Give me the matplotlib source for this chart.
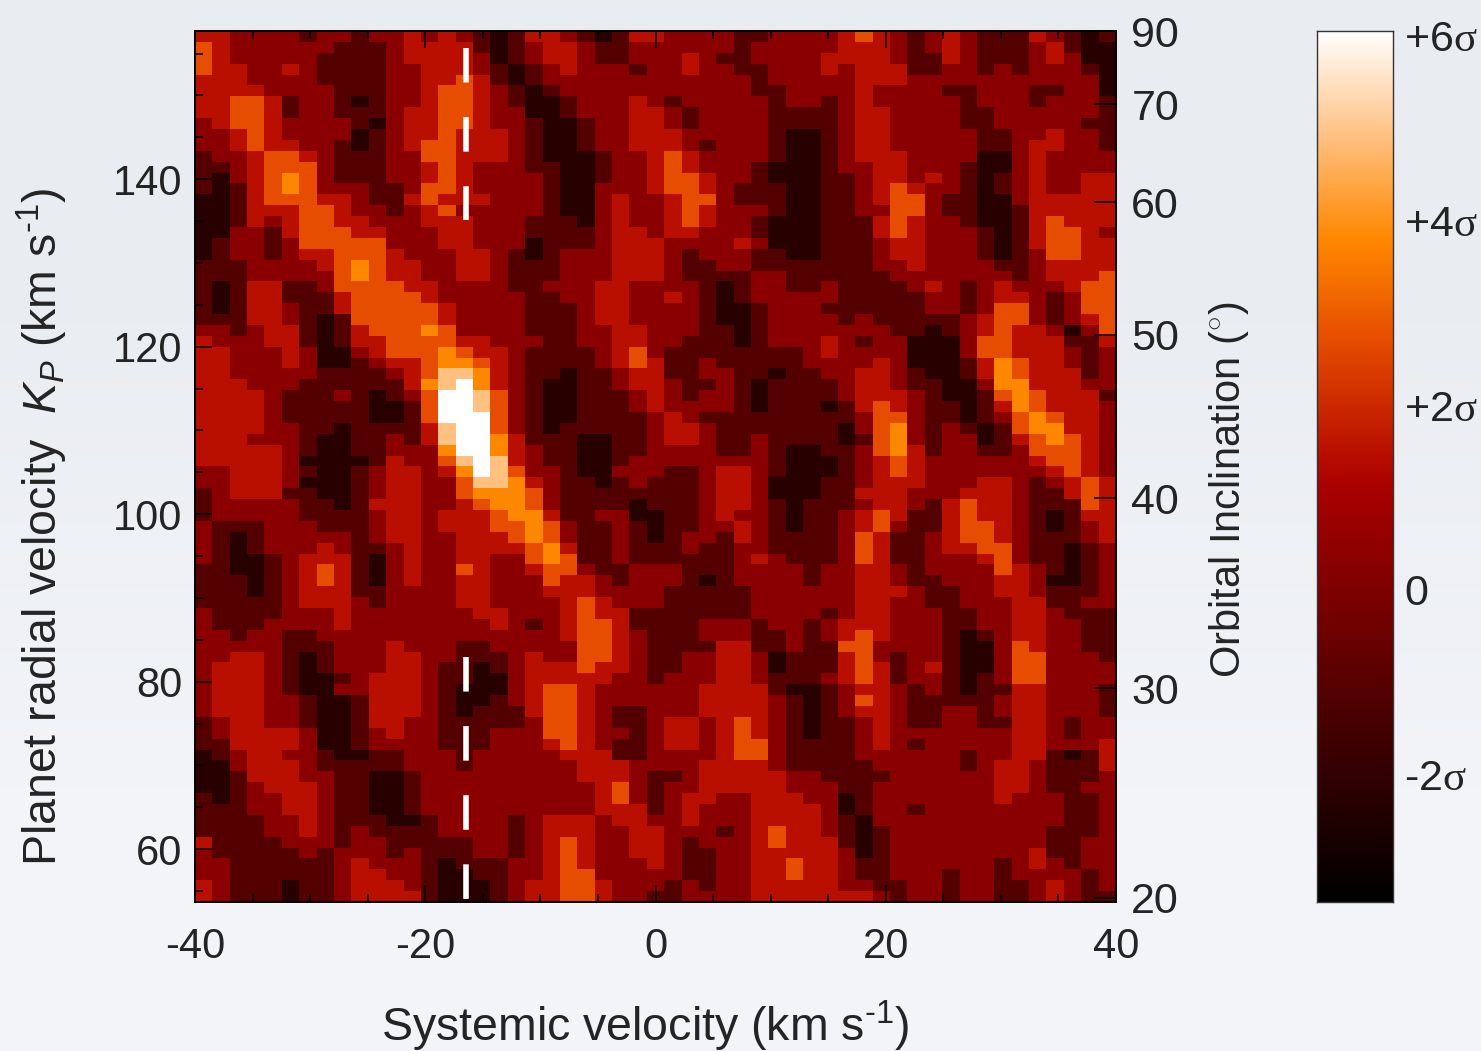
import numpy as np
import matplotlib
matplotlib.use("Agg")
import matplotlib.pyplot as plt
from matplotlib.colors import LinearSegmentedColormap, Normalize

plt.rcParams['font.family'] = ['Liberation Sans', 'DejaVu Sans']
plt.rcParams['mathtext.fontset'] = 'custom'
plt.rcParams['mathtext.rm'] = 'Liberation Sans'
plt.rcParams['mathtext.it'] = 'Liberation Sans:italic'
plt.rcParams['mathtext.bf'] = 'Liberation Serif'
plt.rcParams['axes.unicode_minus'] = False

# Map cells, coded by colour step (see LEVELS), top row first
ROWS = [
"33 2222 1 22 1 22 3 2 3 2 1 0 1 33 2 1 0 1 33 2222 11 2222 3 4 3 2 1 2 3 2 111 3 2 1 0 1",
"4 3 222222 111 2 333 3 1 0 1 2 33 2 11 22 2222 1 22222 333 2 1 2 3 2 111 2 3 1 00",
"4 3 22222 1111 2 3333 2 0 1 2 33 2 11 22 2 3 2 11 2222 3 333 2 11 3 2 111 2 3 2 00",
"4 33 22 3 2 1111 22 333 2 1 0 1 2 3 222 1 2 2 3 22 11 222 3 2 333 11 22 1 2 1 222 1 0",
"333 2222 1111 22 33 4 3 1 0 1 2222222 22222 1 22222 333 22222222222 0",
"3333 2222 111 22 3 44 3 2 1 0 1 222222 22222 11 2222 3 2222 11 222 11 22 0",
"33 44 3 1 22 1 0 1 22 3 44 3 2 1 00 1 222 3 2 1 22222 1 22 1 2 3 22222 1 222 1 222 1",
"33 44 3 1 22 111 2 33 44 3 22 00 1 222 33 2 1 2222 1111 2 33 2222 11 222222 1",
"2 3 44 3 2222 1 0 2 33 44 3 22 1 00 1 22 33 2 1 2222 1111 2 33 2222 11 22222 11",
"22 3 4 3 2222 0 1 2 33 4 333 2 1 00 1 22 33 3 2 2222 1 00 1 2 33 22222 11 22 3 22 1",
"22 3 4 33 22 1 0 1 2 3 44 333 2 1 00 1 22 33 3 2 1 222 1 00 1 2 33 22222 11 2 33 22 1",
"1 22 3 44 3 2 111 22 44 333 2 1 000 1 2 2 3 4 3 2222 1 00 1 2 333 2222 00 2 3 2222",
"11 2 3 444 2 111 22 3 4 3 222 1 1 00 1 2 2 3 4 3 222 1 000 1 2 2 33 222 1 00 2 3 2222",
"1 0 2 3 4 5 4 2 111 22 3 4 3 2222 1 00 1 22 3 44 3 22 1 000 11 2 33 2 3 2 1 0 1 2 3 22 33",
"1 0 1 3 4 5 4 222 11 2 44 3 2222 1 00 222 3 44 3 2 111 00 11 2 3 4 3 22 1 0 1 2 3 22 33",
"00 1 3 444 33 2 11 3 4 333 222 1 00 2 3 22 3 44 2 111 00 11 2 3 44 2 11 00 2 33333",
"00 1 333 44 3 22 1 2 3 4 22222 1 00 2 3 22 3 4 3 222 1 00 11 22 44 2 11 00 1 33333",
"00 1 3 2 3 44 33 222 333 222 111 0 2 3 22 3 4 3 22 1 000 111 3 4 3 22 1 00 1 3 4 333",
"00 22 1 3 444 33 222 33 222 1111 2 33 2 33 222 1 000 111 3 4 3 222 1 0 1 3 44 3 2",
"0 1 22 1 2 44444 222 33 222 0 111 2 33 3 2222 3 2 000 111 2 33 222 1 0 1 3 44 33",
"0 1 22 1 2 33 444 3 22 2 33 2 1 0 1 222 333 2 1 222 11 00 111 2 33 222 1 0 1 2 44 33",
"111 2222 3 4 5 4 33 22 33 2 111 222 333 2 11 22 1111111 22 3 2222 11 2 3333",
"111 22222 4 5 4 33 22 33 2 111 222 333 2 1111 22 111111 2222222 1 2 333 4",
"1 0 1 33 11 2 4444 33 2222 11 222 33 22 22 1 0 1 22 11 2 1111 2 3 2 1 2 3 222 3 44",
"1 0 1 33 111 3 4444 3 22222 11 22 33 22 3 2 1 0 1 22222 11111 22 1 2 33 2 1 2 44",
"1 0 1 33 2 11 3 44444 3 2222 111 2 33 22 22 1 00 1 222 1 11111 22 1 2 44 2 1 2 44",
"111 33 2 1 0 1 44444 3 2222 111 2 33 22 22 1 00 1 2222 1 2 11111 2 3 44 2 1 2 3 4",
"22 1 2 33 1 0 1 3 444 5 4 2222 111 22 33 2 22 11 0 1 2222222 11 0 1 2 3 4 33 2 0 2 4",
"3 222 33 1 0 1 33 444 4 33 222 11 22 33 2 2 111 0 1 222 3 2 1 22 000 2 44 333 1 1 3",
"33 222 3 2 00 2 3 444 5 4 33 2 1111 2 3 4 2 11111111 2 3 2222 000 2 44 333 2 1 2",
"33 222 3 2 00 1 2 33 4 55 4 3 2 1111 2 3 4 3 11 2 11111 2222 3 2 000 1 3 5 4 33 2 1 2",
"33 22222 1111 2 3 4 66 5 3 2 11 0 11 2 33 11 22 11 0 11 22 33 2 1 00 1 3 5 4 333 1 2",
"333 222 111111 3 5 6 7 5 3 2 1 00 11 2 33 2 11 2 1 0 1111 2 33 2 11 00 2 55 3 33 22",
"3333 2 111 2 1 0 1 2 4 77 6 4 2 1 00 111 2 3 2 1 22 1 0 1111 2 333 2 1 00 1 4 5 4 333 1",
"3333 2 11111 00 1 4 77 6 4 2 1 00 111 2 3 2222 1 0 111 0 1 3 4 3 2 11 0 1 3 5 4 333 2",
"3333 2 11111 00 1 4 777 4 2 1 00 111 1 2 3 2 111111111 2 44 2 11 0 1 2 4 5 4 33 2",
"3333 22 11 0 1111 3 6 77 4 2 1 0 11111 2 33 2 1111111 0 2 4 5 2 1 2 1 0 1 4 55 33 2",
"333 222 1 00 11 2 1 3 6 77 5 3 111 00 11 2 33 2 11 2 1111 0 1 4 5 2 1 22 0 1 3 4 5 4 3 2",
"3333 3 2 1 00 11 222 5 77 5 3 2 11 00 11 2 222 11 2 1 00 11 2 4 5 3 1 22 11 2 444 3 2",
"33333 2 0000 1 3 22 4 6 7 6 3 2 11 00 1 22 22222 2 1 000 1 2 3 4 3 2222 2 2 3 44 3 2",
"22 333 2 1 00 1 2 33 2 3 5 7 6 4 22 1 00 222 11 2 33 2 1 000 1 2 3 4 3 222222 2 3 4 3 2",
"22 333 2 000 1 2 33 22 4 66 5 3 2 11 0 1 2 1 11 2 33 2 000 11 2 333 222 33 2 1 2 3 4 3",
"1 2 333 11 00 1 2 33 22 4 555 4 2 111111 11 2 33 2 000 11 333 222 333 2 11 3 4 3",
"1 22222 11 0 1 3 33 22 3 4 55 4 2 1111 0 1 11 2 33 2 1 0 111 2 33 2 1 3 4 33 2 11 1 4 3",
"1 22222 111 1 2 33 2 333 4 55 3 11 22 00 11 2 3 22 1 0 11 2 3 4 3 11 3 4 33 2 1 0 1 33",
"2 111 222 111 2 33 2 333 44 5 4 2 11 2 1 0 11 22 3 2 1 0 11 2 3 4 2 11 3 44 3 2 1 0 1 2 3",
"2 1 0 1 22222 1 2 33 22 333 4 5 4 2 11 2 1 0 1 22 1 3 2 1111 2 4 3 11 2 3 44 3 2 111 2 3",
"2 1 0 1 222 3 2 11 2 3 22 3333 4 5 3 11 2 11 1 2 11 22 1111 2 4 3 11 2 33 44 2 11 0 1 2",
"2 1 00 1 2 333 1 0 2 3 22 33 22 4 5 4 11 2 11 1111 2 3 2 111 2 4 3 11 222 3 4 2 11 0 1 2",
"11 00 1 2 3 4 3 1 0 2 3 22 4 3 22 3 44 2 11 22 2 111 2222 1 22 33 2 1 2222 4 3 2 1 0 1 2",
"111 0 1 2 3 4 3 1 0 2 3 22 33 222 4 33 2 1 22 2 1 0 1 2222 1 22 33 2 11 222 33 2 00 1 2",
"111 0 1 2 333 11 2222 33 222 333 2222 11111 222222 333 2 11 22 33 2 111 2",
"11111 2 333 2 1 2222 33 2222 3 4 3 222 11111 222222 33 22 11 222 33 1 1 22",
"2 1111 222 3 2222222 33 222 3 4 33 1 1 11111 2222 1 2 33 222 11 22 33 2 11 1",
"2 111 2222 3 22222222 3 2 1 2 3 44 3 1 1 11 222 1 22 1 2 333 222 1 1 2 2 33 22 11",
"22 1 22 11 22222222222222 3 44 3 2 1 11 222 11 2 1 2 3 4 3 222 1 0 1 2 33 22 11",
"22222 111 222 3 222 11 22222 44 3 2 1 111 33 11 2 11 44 2 222 1 00 2 4 3 22 11",
"22 33 2 1 0 1 222 33 22 111 2 3 22 44 3 2 1 1 22 33 2 0 111 3 4 2 1 22 1 00 2 44 222 1",
"2 333 2 1 0 1 222 33 2 11 0 1 2 333 4 33 2 1 1 22 33 2 0 111 3 4 3 1 2 3 1 00 2 44 2222",
"2 333 2 1 00 1 2 333 2 11 00 2 3 3333 22 1 222 33 2 111 2 3 4 3 1 22 1 0 1 2 44 2222",
"2 333 2 1 00 22 333 2 1 000 2 3 44 3 2222 22 3333 1 00 1 2 33 2 1 2 1 0 11 33 222 1",
"2 333 22 1 00 1 333 2 1 00 1 2 3 44 3 2222 22 3333 2 1 0 1 2 4 3 2 11111 2 33 222 1",
"2 333 22 1 00 1 333 2 1 0 111 3 44 3 2 11 2 22 3333 2 1 0 1 2 33 2 11 22 1 2 33 222 1",
"1 2 33 22 1 00 1 33 22 11111 2 44 3 2 11 2 33 2 3 4 3 2 1 0 11 2 3 2 11 22 11 33 2 1 22",
"1 2 3333 2 00 1 2 3 22 111 222 44 3 22 1 2 33 2 3 4 3 2 1 0 11 2 3 22 22222 33 2 1 22",
"11 3333 2 00 1 2222 111 222 3 4 3 2 11 2 33 2 3 44 2 1111 2 3 2 1 22222 33 222 3",
"0 1 2 33 22 1 00 11 222 1 22222 333 1 1 2 222 3 44 2 1111 222222 1 22 33 1 0 1 3",
"00 2 333 2 11111 222 1 222222 333 22 22 3333 2 11111 22222 1 2 33 2 111 3",
"00 1 333 22 11 00 1 222222222 333 2 1 1 2 33333 22 1111 222222 33 2 111 2",
"00 1 2 333 2 11 00 1 2222222222 3 4 2 1 22 33333 222 11 2222222 33 2 11 2 2",
"1 0 1 22 33 2 11 00 1 2222222222 3 4 2 1 2 3 3 22 333 22 0 1 2222222 3 222 11 2",
"111 22 33 2 11 00 1 2222222222 333 1 2 3 222 3333 2 0 1 22 1 22222222 11 2",
"1111 22 3 2 111 00 1 2222 1 2 333 2 33 2 2 3 222 3333 2 1 0 22222222222 11 2",
"1111 22 3 2 1 2 1111 2222 1 2 333 22 33 222 1 2 3 4 33 2 1 0 1 222222222 111 2",
"3 1111 222 1 22 11111 22 1 2 3 4 3 22 33 2 1 222 3 4 333 1 0 1 222222222 11 22",
"2 11111 2 1 222 1 2 111 22 1 2 3 4 3 22 33 2 11 22 33333 2 0 1 22222222 3 11 22",
"22 111111 2 3 222 1 0 111 22 3 4 3 222 3 2 11 22 33 4 33 2 11 222222 1 2 3 2 1 22",
"22 111111 2 33 22 1 00 11 22 3 44 2222 2 11 22 33 4 33 2 11 222 1 22 1 222 2 1 2",
"3 2 111 0 11 2 333 2 1 000 1 2 33 44 3 222 1 2 1 22 33333 22 11 22 1 22 11 2 3 2 1 2",
"3 2 111 0 11 2 3333 1 000 1 2 33 44 3 22 1 1 2222 3333333 2 1 22 1 22 11 2 3 2 1 1",
]
# sigma value of each colour step
LEVELS = [-2.25, -1.1, 0.3, 1.5, 2.7, 3.8, 4.9, 6.05]

X_TICKS = [-40, -20, 0, 20, 40]
Y_TICKS = [60, 80, 100, 120, 140]
INCLINATION = [20, 30, 40, 50, 60, 70, 90]
KP_MAX = 158.5
DASH_TOP = [155.65, 135.1]
DASH_BOTTOM = [82.9, 54.1]
SIGMA_TICKS = [6, 4, 2, 0, -2]
SIGMA_LABELS = [r'+6$\mathbf{σ}$', r'+4$\mathbf{σ}$', r'+2$\mathbf{σ}$', '0', r'-2$\mathbf{σ}$']

values = np.array([[LEVELS[int(ch)] for ch in "".join(r.split())] for r in ROWS])

vmin, vmax = -3.38, 6.05
nodes = [(-3.38, '#000000'), (-2.25, '#2a0000'), (-1.1, '#550000'), (0.3, '#8b0000'),
         (1.1, '#aa0000'), (1.5, '#b91000'), (2.7, '#e64d00'), (3.8, '#ff8800'),
         (4.9, '#ffc080'), (6.05, '#ffffff')]
cmap = LinearSegmentedColormap.from_list(
    'fire', [((v - vmin) / (vmax - vmin), c) for v, c in nodes], N=512)
norm = Normalize(vmin, vmax)

W, H = 1481, 1051
BG = '#edf0f4'
TEXT = '#242424'
fig = plt.figure(figsize=(W / 100, H / 100), dpi=100, facecolor=BG)

def box(l, t, r, b):
    return [l / W, 1 - b / H, (r - l) / W, (b - t) / H]

bg = fig.add_axes([0, 0, 1, 1], zorder=-1)
bg.imshow(np.array([[[233, 236, 240]], [[242, 244, 248]]], dtype=np.uint8),
          aspect='auto', interpolation='bilinear')
bg.axis('off')

ax = fig.add_axes(box(195, 31, 1116, 902))
xlim = (-40, 40)
ylim = (53.7, 157.7)
ax.imshow(values, cmap=cmap, norm=norm, origin='upper', aspect='auto',
          interpolation='nearest', extent=[xlim[0], xlim[1], ylim[0], ylim[1]])
ax.set_xlim(xlim)
ax.set_ylim(ylim)

FS = 30
ax.set_xticks(X_TICKS)
ax.set_xticks(np.arange(-40, 41, 5), minor=True)
ax.set_yticks(Y_TICKS)
ax.set_yticks(np.arange(55, 156, 5), minor=True)
ax.tick_params(which='major', direction='in', top=True, length=12.5, width=1.1,
               labelsize=FS, color='black', labelcolor=TEXT)
ax.tick_params(axis='x', which='major', pad=18)
ax.tick_params(axis='y', which='major', pad=9)
ax.tick_params(which='minor', direction='in', top=True, length=6, width=1.1)
for s in ax.spines.values():
    s.set_linewidth(1.2)

for seg in (DASH_TOP, DASH_BOTTOM):
    ax.plot([-16.46, -16.46], seg, color='white', lw=4.0,
            dashes=(6.22, 6.22), dash_capstyle='butt', zorder=3)

fig.text(645 / W, 1 - 1026 / H, r'Systemic velocity (km s$^{\text{-}1}$)', fontsize=33.5,
         color=TEXT, ha='center', va='center')
fig.text(42 / W, 1 - 527 / H,
         r'Planet radial velocity  $\mathit{K}_{\mathit{P}}$ (km s$^{\text{-}1}$)',
         fontsize=33.5, color=TEXT, ha='center', va='center', rotation=90)

sec = ax.twinx()
sec.set_ylim(ylim)
sec.set_yticks([min(KP_MAX * np.sin(np.radians(i)), ylim[1]) for i in INCLINATION])
sec.set_yticklabels([str(i) for i in INCLINATION])
sec.tick_params(axis='y', direction='in', length=16, width=1.1, labelsize=31, pad=11, labelcolor=TEXT)
for s in sec.spines.values():
    s.set_linewidth(1.2)
fig.text(1229 / W, 1 - 490 / H, 'Orbital Inclination ($^{\\circ}$)', fontsize=30,
         color=TEXT, ha='center', va='center', rotation=90)

cax = fig.add_axes(box(1317, 31, 1393, 902))
grad = np.linspace(vmax, vmin, 512)[:, None]
cax.imshow(grad, cmap=cmap, norm=norm, aspect='auto', extent=[0, 1, vmin, vmax])
cax.set_xticks([])
cax.yaxis.tick_right()
cax.set_yticks(SIGMA_TICKS)
cax.set_yticklabels(SIGMA_LABELS)
cax.tick_params(axis='y', length=0, pad=8, labelsize=31, labelcolor=TEXT)
for s in cax.spines.values():
    s.set_linewidth(1.0)
    s.set_color('#333333')

fig.savefig('out.png', dpi=100, facecolor=BG)
